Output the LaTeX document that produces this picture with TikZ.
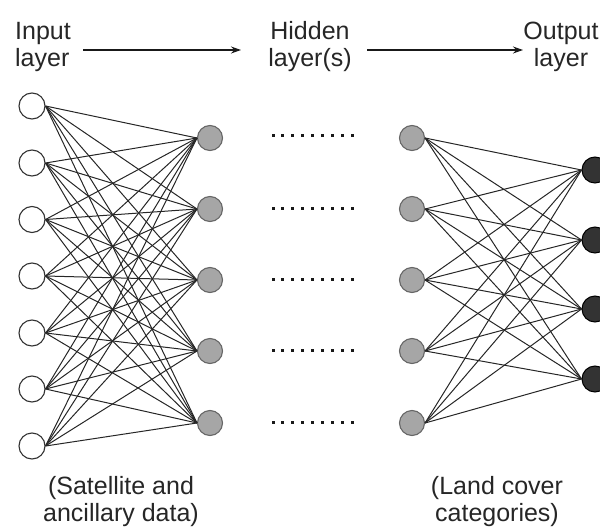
\documentclass[tikz,border=0pt]{standalone}
\usepackage{fontspec}
\setmainfont{Liberation Sans}
\usetikzlibrary{arrows.meta}
\begin{document}
\begin{tikzpicture}[x=1pt,y=-1pt,
  inp/.style={circle,draw=black!80,fill=white,minimum size=26pt,inner sep=0pt,line width=1.1pt},
  hid/.style={circle,draw=black!60,fill=black!35,minimum size=25pt,inner sep=0pt,line width=1.1pt},
  outn/.style={circle,draw=black,fill=black!80,minimum size=26pt,inner sep=0pt,line width=1pt},
  link/.style={draw=black!85,line width=1pt},
  lbl/.style={font=\fontsize{25}{27}\selectfont,text=black!85,inner sep=0pt},
  flow/.style={-{Stealth[length=10pt,width=7pt]},line width=1.2pt,draw=black!90}]
\useasboundingbox (0,0) rectangle (600,530);
\clip (0,0) rectangle (600,530);

% layers of units
\foreach \i/\y in {1/106,2/163,3/219.5,4/276,5/333,6/389,7/446}
  \node[inp] (i\i) at (32,\y) {};
\foreach \i/\y in {1/138,2/209,3/280,4/351,5/423}
  \node[hid] (h\i) at (210,\y) {};
\foreach \i/\y in {1/138,2/209,3/280,4/351,5/423}
  \node[hid] (g\i) at (412,\y) {};
\foreach \i/\y in {1/170,2/240,3/309,4/379}
  \node[outn] (o\i) at (595,\y) {};

% full connections
\foreach \a in {1,...,7}
  \foreach \b in {1,...,5}
    \draw[link] (i\a.east) -- (h\b.west);
\foreach \a in {1,...,5}
  \foreach \b in {1,...,4}
    \draw[link] (g\a.east) -- (o\b.west);

% elided hidden layers
\foreach \y in {135,208,279,350,422}
  \foreach \k in {0,...,8}
    \fill[black!90] (273+\k*9.9-1.5,\y-1.5) rectangle ++(3,3);

% layer titles
\node[lbl,align=left,anchor=west] (inl) at (15,47) {Input\\layer};
\node[lbl,align=center] (hidl) at (310,47) {Hidden\\layer(s)};
\node[lbl,align=center] (outl) at (561,47) {Output\\layer};
\coordinate (a1s) at (83,50);
\coordinate (a1e) at (241,50);
\coordinate (a2s) at (367,50);
\coordinate (a2e) at (523,50);
\draw[flow] (a1s) -- (a1e);
\draw[flow] (a2s) -- (a2e);

% data descriptions
\node[lbl,align=center] (inds) at (121,502) {(Satellite and\\ancillary data)};
\node[lbl,align=center] (outds) at (497,502) {(Land cover\\categories)};
\end{tikzpicture}
\end{document}
